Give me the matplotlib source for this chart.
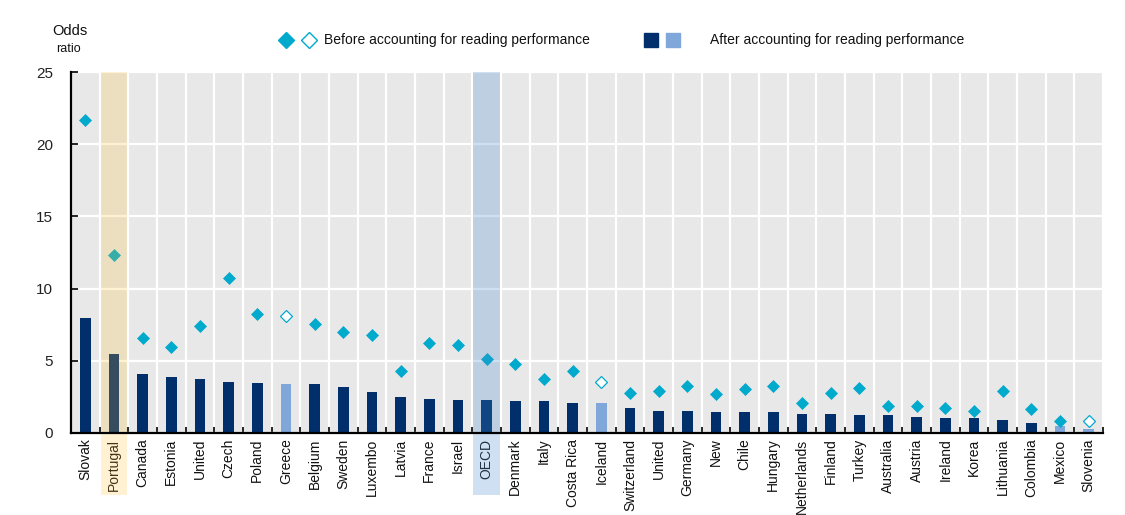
import matplotlib
matplotlib.use("Agg")
import matplotlib.pyplot as plt
from matplotlib.patches import Rectangle
from matplotlib.lines import Line2D
import matplotlib.transforms as mtransforms
import numpy as np

plt.rcParams['font.family'] = ['Liberation Sans', 'DejaVu Sans']

countries = ["Slovak", "Portugal", "Canada", "Estonia", "United", "Czech", "Poland", "Greece",
             "Belgium", "Sweden", "Luxembo", "Latvia", "France", "Israel", "OECD", "Denmark",
             "Italy", "Costa Rica", "Iceland", "Switzerland", "United", "Germany", "New", "Chile",
             "Hungary", "Netherlands", "Finland", "Turkey", "Australia", "Austria", "Ireland",
             "Korea", "Lithuania", "Colombia", "Mexico", "Slovenia"]

before = [21.7, 12.3, 6.6, 5.97, 7.43, 10.7, 8.26, 8.1, 7.57, 7.0, 6.78, 4.3, 6.25, 6.1, 5.14,
          4.79, 3.75, 4.3, 3.5, 2.75, 2.9, 3.25, 2.7, 3.05, 3.25, 2.1, 2.75, 3.1, 1.85, 1.9,
          1.75, 1.5, 2.9, 1.65, 0.8, 0.8]

after = [7.94, 5.5, 4.12, 3.9, 3.77, 3.56, 3.49, 3.42, 3.42, 3.21, 2.87, 2.52, 2.38, 2.31, 2.31,
         2.24, 2.24, 2.1, 2.05, 1.7, 1.55, 1.55, 1.48, 1.48, 1.48, 1.34, 1.34, 1.27, 1.27, 1.13,
         1.06, 1.06, 0.92, 0.71, 0.46, 0.3]

# not significant (hollow diamond / light bar)
before_not_sig = ["Greece", "Iceland", "Slovenia"]
after_not_sig = ["Greece", "Iceland", "Mexico", "Slovenia"]

highlight = {"Portugal": ("#FFBE2D", 0.21), "OECD": ("#458ACC", 0.26)}

yticks = [0, 5, 10, 15, 20, 25]

NAVY = "#002F6C"
LIGHT = "#7FA7D9"
CYAN = "#00AACC"

fig = plt.figure(figsize=(11.25, 5.15), dpi=100)
ax = fig.add_axes([71/1125, 82/515, (1103-71)/1125, (433-72)/515])
ax.set_facecolor("#E8E8E8")

x = np.arange(len(countries))
bar_colors = [LIGHT if c in after_not_sig else NAVY for c in countries]

ax.bar(x, after, width=0.37, color=bar_colors, zorder=3)

for i, (c, v) in enumerate(zip(countries, before)):
    if c in before_not_sig:
        ax.plot(x[i], v, marker='D', markersize=6.5, markerfacecolor='white',
                markeredgecolor=CYAN, markeredgewidth=0.9, linestyle='none', zorder=4)
    else:
        ax.plot(x[i], v, marker='D', markersize=6.5, markerfacecolor=CYAN,
                markeredgecolor=CYAN, markeredgewidth=0.5, linestyle='none', zorder=4)

ax.set_xlim(-0.5, len(countries) - 0.5)
ax.set_ylim(0, 25)
ax.set_yticks(yticks)
ax.set_yticklabels([str(t) for t in yticks], fontsize=11, color="#222222")

# category boundary gridlines
ax.set_xticks(np.arange(-0.5, len(countries) - 0.5 + 1e-9, 1.0))
ax.set_xticklabels([])
ax.set_xticks(x, minor=True)
ax.set_xticklabels(countries, minor=True, rotation=90, fontsize=10, color="#111111")
ax.tick_params(axis='x', which='minor', length=0, pad=4)
ax.tick_params(axis='x', which='major', length=4, width=1.2, direction='in', color='black')
ax.tick_params(axis='y', length=5, width=1.2, direction='in', pad=13)

ax.grid(True, axis='x', which='major', color='white', linewidth=1.6, zorder=1)
ax.grid(True, axis='y', which='major', color='white', linewidth=1.6, zorder=1)
ax.set_axisbelow(True)

for s in ['top', 'right']:
    ax.spines[s].set_visible(False)
ax.spines['left'].set_linewidth(1.6)
ax.spines['bottom'].set_linewidth(1.6)
ax.spines['left'].set_zorder(6)
ax.spines['bottom'].set_zorder(6)

# highlight bands
trans = mtransforms.blended_transform_factory(ax.transData, ax.transAxes)
for c, (col, a) in highlight.items():
    i = countries.index(c)
    r = Rectangle((i - 0.47, -0.172), 0.94, 1.172, transform=trans, facecolor=col,
                  alpha=a, edgecolor='none', zorder=5, clip_on=False)
    ax.add_patch(r)

# y-axis title
fig.text(70/1125, 1 - 31/515, "Odds", ha='center', va='center', fontsize=10.5, color="#111111")
fig.text(68/1125, 1 - 49/515, "ratio", ha='center', va='center', fontsize=9, color="#111111")

# legend (manual)
ly = 1 - 40/515
fig.add_artist(Line2D([286/1125], [ly], marker='D', markersize=8, markerfacecolor=CYAN,
                      markeredgecolor=CYAN, linestyle='none', transform=fig.transFigure))
fig.add_artist(Line2D([309/1125], [ly], marker='D', markersize=8, markerfacecolor='white',
                      markeredgecolor=CYAN, markeredgewidth=1.0, linestyle='none',
                      transform=fig.transFigure))
fig.text(324/1125, ly, "Before accounting for reading performance", ha='left', va='center',
         fontsize=10, color="#111111")
fig.add_artist(Line2D([651/1125], [ly], marker='s', markersize=10.5, markerfacecolor=NAVY,
                      markeredgecolor=NAVY, linestyle='none', transform=fig.transFigure))
fig.add_artist(Line2D([673/1125], [ly], marker='s', markersize=10.5, markerfacecolor=LIGHT,
                      markeredgecolor=LIGHT, linestyle='none', transform=fig.transFigure))
fig.text(710/1125, ly, "After accounting for reading performance", ha='left', va='center',
         fontsize=10, color="#111111")

fig.savefig("out.png", dpi=100)
